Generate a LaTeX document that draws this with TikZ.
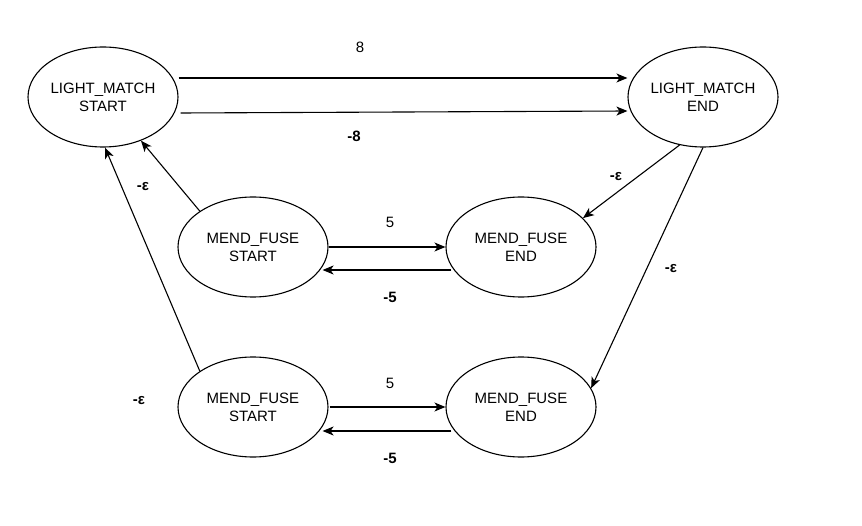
\documentclass[tikz,border=0pt]{standalone}
\usepackage{fontspec}
\setmainfont{Liberation Sans}
\usetikzlibrary{shapes.geometric,arrows.meta}
\tikzset{
  state/.style={draw,ellipse,line width=1.1bp,minimum width=150bp,minimum height=100bp,
    inner sep=0pt,align=center,font=\fontsize{15bp}{18bp}\selectfont},
  trans/.style={line width=1.1bp,-{Stealth[length=11bp,width=9bp,inset=3bp]}},
  lbl/.style={font=\fontsize{15bp}{18bp}\selectfont},
  blbl/.style={font=\fontsize{15bp}{18bp}\selectfont\bfseries}
}
\begin{document}
\begin{tikzpicture}[x=1bp,y=-1bp]
  \useasboundingbox (0,0) rectangle (862,526);
  % states
  \node[state] (lmstart) at (103,97) {LIGHT\_MATCH\\START};
  \node[state] (lmend) at (703,97) {LIGHT\_MATCH\\END};
  \node[state] (mfstarta) at (253,247) {MEND\_FUSE\\START};
  \node[state] (mfenda) at (521,247) {MEND\_FUSE\\END};
  \node[state] (mfstartb) at (253,407) {MEND\_FUSE\\START};
  \node[state] (mfendb) at (521,407) {MEND\_FUSE\\END};
  % transitions
  \draw[trans] ([yshift=19bp]lmstart.east) -- ([yshift=19bp]lmend.west);
  \draw[trans] ([shift={(2bp,-16bp)}]lmstart.east) -- ([yshift=-14bp]lmend.west);
  \draw[trans] (mfstarta.146) -- (lmstart.-49);
  \draw[trans] (mfstartb.146) -- ([xshift=2bp]lmstart.south);
  \draw[trans] (lmend.-116) -- (mfenda.25);
  \draw[trans] (lmend.south) -- (mfendb.15);
  \draw[trans] (mfstarta.east) -- (mfenda.west);
  \draw[trans] ([shift={(6bp,-23bp)}]mfenda.west) -- ([shift={(-6bp,-23bp)}]mfstarta.east);
  \draw[trans] ([xshift=1bp]mfstartb.east) -- (mfendb.west);
  \draw[trans] ([shift={(6bp,-24bp)}]mfendb.west) -- ([shift={(-6bp,-24bp)}]mfstartb.east);
  % labels
  \node[lbl] (l8) at (360,47) {8};
  \node[blbl] (lm8) at (354,136) {-8};
  \node[blbl] (leps1) at (143,187) {-ε};
  \node[blbl] (leps2) at (616,177) {-ε};
  \node[blbl] (leps3) at (671,269) {-ε};
  \node[blbl] (leps4) at (139,401) {-ε};
  \node[lbl] (l5a) at (390,222) {5};
  \node[blbl] (lm5a) at (390,297) {-5};
  \node[lbl] (l5b) at (390,383) {5};
  \node[blbl] (lm5b) at (390,458) {-5};
\end{tikzpicture}
\end{document}
